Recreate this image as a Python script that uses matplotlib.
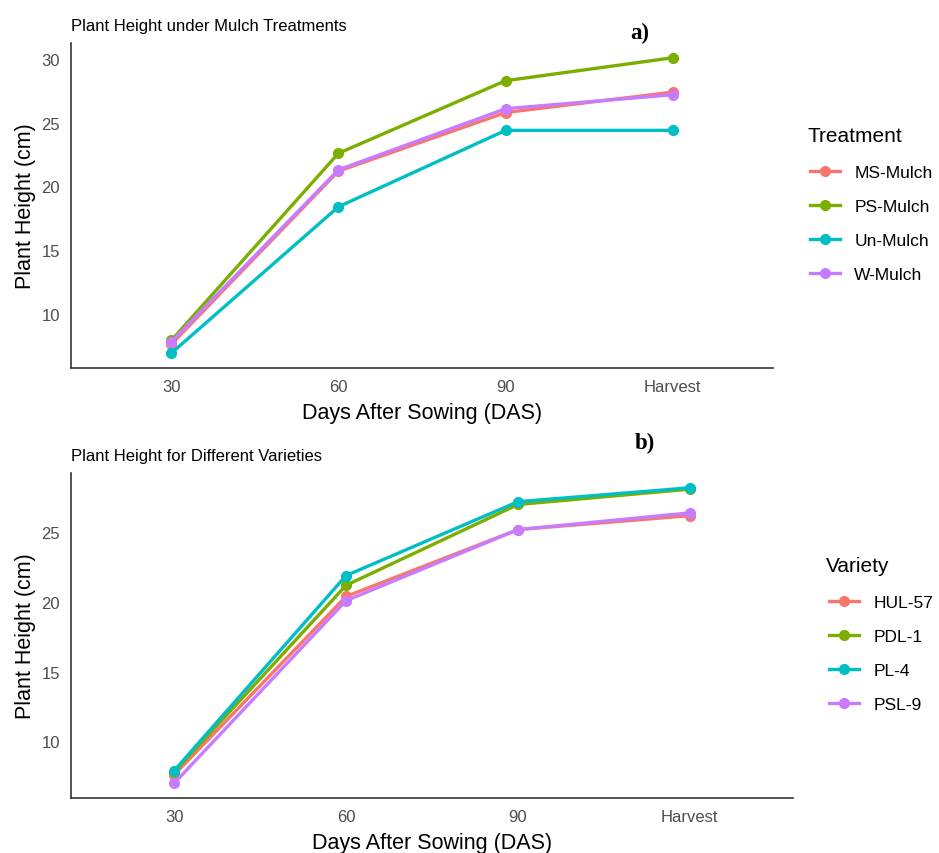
import numpy as np
import matplotlib.pyplot as plt

plt.rcParams['font.family'] = ['Liberation Sans', 'DejaVu Sans']

stages = ["30", "60", "90", "Harvest"]

treatments = ["MS-Mulch", "PS-Mulch", "Un-Mulch", "W-Mulch"]
ms_mulch = [7.6, 21.2, 25.8, 27.4]
ps_mulch = [7.9, 22.6, 28.3, 30.1]
un_mulch = [6.9, 18.4, 24.4, 24.4]
w_mulch = [7.8, 21.3, 26.1, 27.2]

varieties = ["HUL-57", "PDL-1", "PL-4", "PSL-9"]
hul_57 = [7.6, 20.4, 25.2, 26.2]
pdl_1 = [7.8, 21.2, 27.0, 28.1]
pl_4 = [7.9, 21.9, 27.2, 28.2]
psl_9 = [7.0, 20.1, 25.2, 26.4]

colors = ["#F8766D", "#7CAE00", "#00BFC4", "#C77CFF"]

W, H = 939, 854
fig = plt.figure(figsize=(W / 100, H / 100), dpi=100)


def panel(rect, names, series, title, legend_title, leg_px, tag, tag_px):
    ax = fig.add_axes(rect)
    for name, vals, c in zip(names, series, colors):
        ax.plot(stages, vals, color=c, lw=2.4, marker="o", ms=7, label=name)
    allv = np.concatenate(series)
    lo, hi = allv.min(), allv.max()
    pad = (hi - lo) * 0.05
    ax.set_ylim(lo - pad, hi + pad)
    ax.set_xlim(-0.6, 3.6)
    ax.set_yticks([t for t in [10, 15, 20, 25, 30] if t <= hi + pad])
    for s in ["top", "right"]:
        ax.spines[s].set_visible(False)
    for s in ["left", "bottom"]:
        ax.spines[s].set_color("#333333")
        ax.spines[s].set_linewidth(1.2)
    ax.tick_params(length=0, labelsize=12, labelcolor="#4D4D4D", pad=8)
    ax.set_xlabel("Days After Sowing (DAS)", fontsize=15.5, labelpad=6)
    ax.set_ylabel("Plant Height (cm)", fontsize=15.5, labelpad=4)
    ax.set_title(title, loc="left", fontsize=12, x=0.0, pad=9)

    # legend: title as separate text, entries below it
    tx, ty, kx, ky = leg_px
    fig.text(tx / W, 1 - ty / H, legend_title, fontsize=15, ha="left", va="center")
    fig.legend(*ax.get_legend_handles_labels(), loc="upper left",
               bbox_to_anchor=(kx / W, 1 - ky / H), frameon=False, fontsize=12.5,
               handlelength=1.75, labelspacing=1.08, handletextpad=0.8,
               borderpad=0, borderaxespad=0)
    fig.text(tag_px[0] / W, 1 - tag_px[1] / H, tag, fontsize=16.5, fontweight="bold",
             family=["Liberation Serif", "DejaVu Serif"], ha="center", va="center")
    return ax


panel([71 / W, 1 - 369 / H, 702 / W, 325 / H], treatments,
      [ms_mulch, ps_mulch, un_mulch, w_mulch],
      "Plant Height under Mulch Treatments", "Treatment", (807, 137, 810, 166),
      "a)", (640, 33))
panel([71 / W, 1 - 799 / H, 722 / W, 325 / H], varieties,
      [hul_57, pdl_1, pl_4, psl_9],
      "Plant Height for Different Varieties", "Variety", (826, 567, 829, 596),
      "b)", (645, 443))

fig.savefig("out.png", dpi=100)
